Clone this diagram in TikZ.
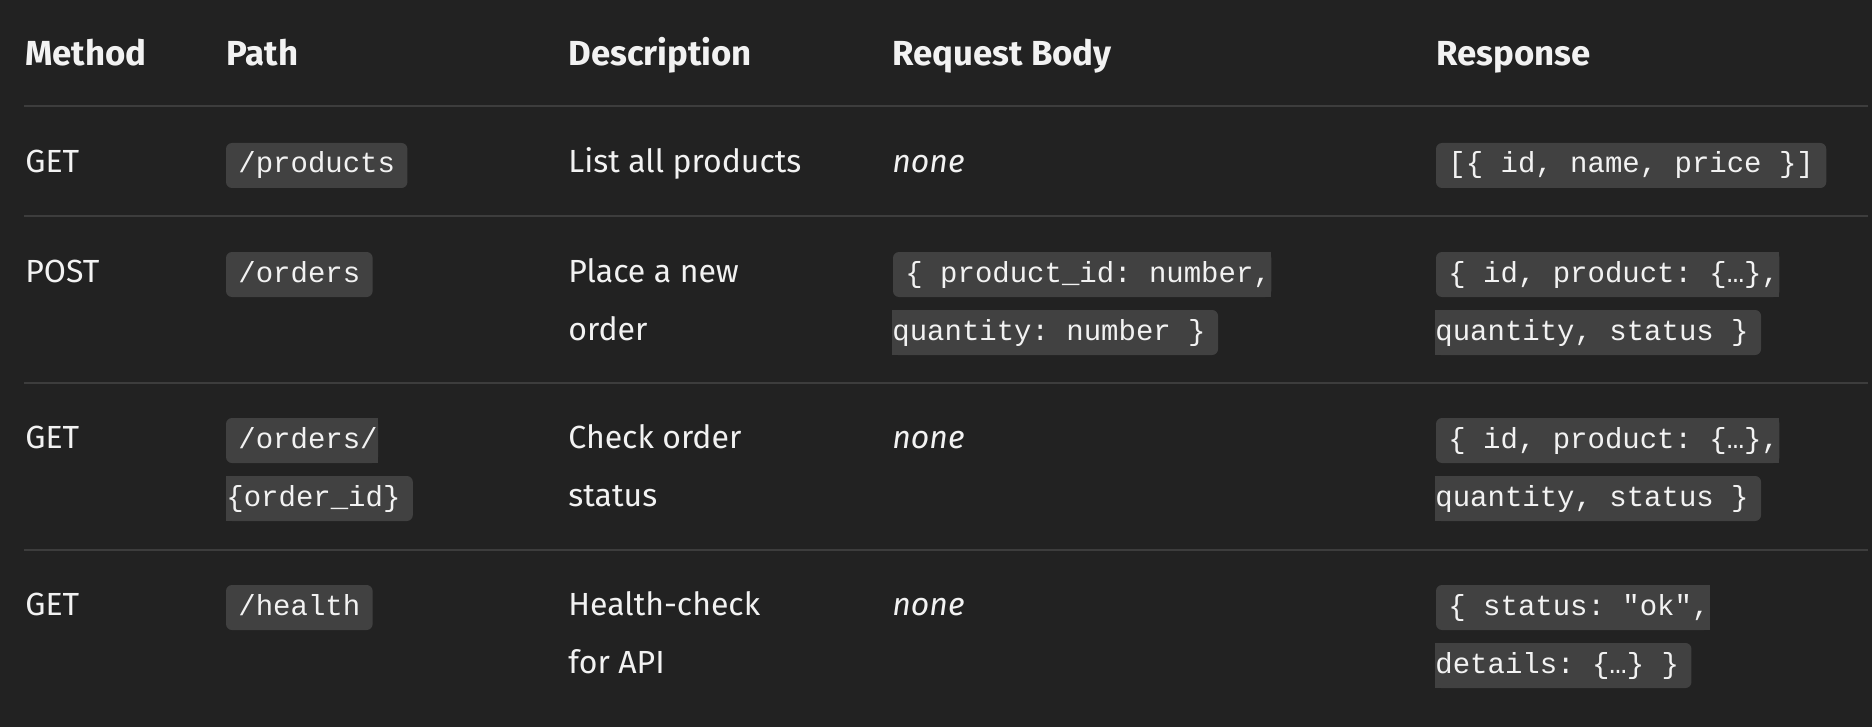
\documentclass[tikz,border=0pt]{standalone}
\usepackage{fontspec}
\setmainfont{Fira Sans}
\setmonofont{Liberation Mono}
\usetikzlibrary{calc,backgrounds}
\definecolor{pagebg}{HTML}{222222}
\definecolor{codebg}{HTML}{414141}
\definecolor{rulec}{HTML}{3D3D3D}
\definecolor{fg}{HTML}{F2F2F2}
\begin{document}
\begin{tikzpicture}[x=0.5pt,y=-0.5pt,
  cell/.style={anchor=base west, inner sep=0pt, text=fg, font=\fontsize{16}{19}\selectfont},
  hdr/.style={cell, font=\fontsize{17.4}{20}\selectfont\bfseries},
  emph/.style={cell, font=\fontsize{16}{19}\selectfont\itshape},
  code/.style={anchor=base west, inner sep=0pt, text=fg, font=\fontsize{14.5}{17}\selectfont\ttfamily},
  rowrule/.style={draw=rulec, line width=1pt},
  codefill/.style={fill=codebg},
]
\begin{scope}[on background layer]
  \fill[pagebg] (0,0) rectangle (1872,727);
\end{scope}
\useasboundingbox (0,0) rectangle (1872,727);

% header
\node[hdr] (hm) at (25,66) {Method};
\node[hdr] (hp) at (226,66) {Path};
\node[hdr] (hd) at (568,66) {Description};
\node[hdr] (hr) at (892,66) {Request Body};
\node[hdr] (hs) at (1436,66) {Response};

% rules
\coordinate (l0a) at (24,106);  \coordinate (l0b) at (1868,106);
\coordinate (l1a) at (24,216);  \coordinate (l1b) at (1868,216);
\coordinate (l2a) at (24,383);  \coordinate (l2b) at (1868,383);
\coordinate (l3a) at (24,550);  \coordinate (l3b) at (1868,550);
\draw[rowrule] (l0a) -- (l0b);
\draw[rowrule] (l1a) -- (l1b);
\draw[rowrule] (l2a) -- (l2b);
\draw[rowrule] (l3a) -- (l3b);

% row 1
\node[cell] (m1) at (25,173) {GET};
\node[code] (p1) at (238,173) {/products};
\node[cell] (d1) at (568,173) {List all products};
\node[emph] (r1) at (892,173) {none};
\node[code] (s1) at (1448,173) {[\{ id, name, price \}]};

% row 2
\node[cell] (m2) at (25,282) {POST};
\node[code] (p2) at (238,282) {/orders};
\node[cell] (d2a) at (568,282) {Place a new};
\node[cell] (d2b) at (568,340) {order};
\node[code] (r2a) at (905,282) {\{ product\_id: number,};
\node[code] (r2b) at (892,340) {quantity: number \}};
\node[code] (s2a) at (1448,282) {\{ id, product: \{…\},};
\node[code] (s2b) at (1435,340) {quantity, status \}};

% row 3
\node[cell] (m3) at (25,448) {GET};
\node[code] (p3a) at (238,448) {/orders/};
\node[code] (p3b) at (226,506) {\{order\_id\}};
\node[cell] (d3a) at (568,448) {Check order};
\node[cell] (d3b) at (568,506) {status};
\node[emph] (r3) at (892,448) {none};
\node[code] (s3a) at (1448,448) {\{ id, product: \{…\},};
\node[code] (s3b) at (1435,506) {quantity, status \}};

% row 4
\node[cell] (m4) at (25,615) {GET};
\node[code] (p4) at (238,615) {/health};
\node[cell] (d4a) at (568,615) {Health-check};
\node[cell] (d4b) at (568,673) {for API};
\node[emph] (r4) at (892,615) {none};
\node[code] (s4a) at (1448,615) {\{ status: "ok",};
\node[code] (s4b) at (1435,673) {details: \{…\} \}};

% code backgrounds
\begin{scope}[on background layer]
  % whole boxes
  \foreach \n in {p1,s1,p2,p4}{
    \fill[codefill, rounded corners=3pt] ($(\n.base west)+(-12,-30)$) rectangle ($(\n.base east)+(12,15)$);
  }
  % first line of a split box: round left only
  \foreach \n in {r2a,s2a,p3a,s3a,s4a}{
    \fill[codefill, rounded corners=3pt] ($(\n.base west)+(-12,-30)$) rectangle ($(\n.base east)+(0,15)$);
    \fill[codefill] ($(\n.base)+(0,-30)$) rectangle ($(\n.base east)+(0,15)$);
  }
  % second line of a split box: round right only
  \foreach \n in {r2b,s2b,p3b,s3b,s4b}{
    \fill[codefill, rounded corners=3pt] ($(\n.base west)+(0,-30)$) rectangle ($(\n.base east)+(12,15)$);
    \fill[codefill] ($(\n.base west)+(0,-30)$) rectangle ($(\n.base)+(0,15)$);
  }
\end{scope}
\end{tikzpicture}
\end{document}
